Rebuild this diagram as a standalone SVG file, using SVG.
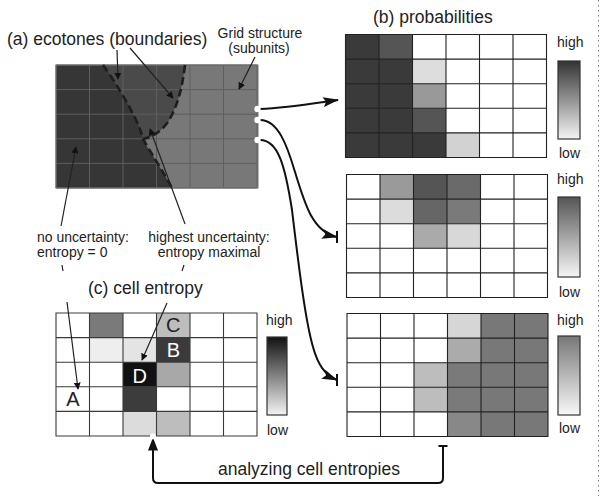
<svg xmlns="http://www.w3.org/2000/svg" xmlns:xlink="http://www.w3.org/1999/xlink" width="600" height="496" viewBox="0 0 600 496">
<style>
text{font-family:"Liberation Sans",Arial,sans-serif;fill:#222}
.t17{font-size:17.5px}
.t14{font-size:14px}
.let{font-size:20px;text-anchor:middle}
.gl{fill:none;stroke:#222;stroke-width:1.1}
.ann{fill:none;stroke:#222;stroke-width:1.2}
.con{fill:none;stroke:#111;stroke-width:2}
.dash{fill:none;stroke:#1e1e1e;stroke-width:2.6;stroke-dasharray:8,4}
.bar{stroke:#333;stroke-width:1.2}
</style>
<defs>
<path id="grid" d="M33.5,0V123M67,0V123M100.5,0V123M134,0V123M167.5,0V123M0,24.6H201M0,49.2H201M0,73.8H201M0,98.4H201M0,0H201V123H0Z"/>
<marker id="sm" viewBox="0 0 10 10" refX="9" refY="5" markerWidth="7" markerHeight="7" markerUnits="userSpaceOnUse" orient="auto">
<path d="M0,0L10,5L0,10z" fill="#111"/>
</marker>
<marker id="big" viewBox="0 0 16 10" refX="15" refY="5" markerWidth="16" markerHeight="10" markerUnits="userSpaceOnUse" orient="auto">
<path d="M0,0L16,5L0,10L3,5z" fill="#111"/>
</marker>
<marker id="up" viewBox="0 0 10 13" refX="5" refY="0.5" markerWidth="10" markerHeight="13" markerUnits="userSpaceOnUse" orient="0">
<path d="M5,0L10,13L0,13z" fill="#111"/>
</marker>
<linearGradient id="g1" x1="0" y1="0" x2="0" y2="1"><stop offset="0" stop-color="#333"/><stop offset="1" stop-color="#f4f4f4"/></linearGradient>
<linearGradient id="g2" x1="0" y1="0" x2="0" y2="1"><stop offset="0" stop-color="#555"/><stop offset="1" stop-color="#f6f6f6"/></linearGradient>
<linearGradient id="g3" x1="0" y1="0" x2="0" y2="1"><stop offset="0" stop-color="#777"/><stop offset="1" stop-color="#f8f8f8"/></linearGradient>
<linearGradient id="g4" x1="0" y1="0" x2="0" y2="1"><stop offset="0" stop-color="#111"/><stop offset="1" stop-color="#f4f4f4"/></linearGradient>
</defs>
<rect width="600" height="496" fill="#fff"/>
<line x1="598.5" y1="0" x2="598.5" y2="496" stroke="#777" stroke-width="1" stroke-dasharray="1.5,3.5"/>

<!-- (a) ecotones map -->
<g id="map-a" transform="translate(56,65)">
<rect x="0" y="0" width="202" height="123" fill="#363636"/>
<path d="M47,0C58,15 72,38 80,55C84,63 86,70 87,74C95,72 104,68 112,57C121,42 126,25 129,0Z" fill="#4a4a4a"/>
<path d="M129,0H202V123H116C108,108 95,88 87,75C95,72 104,68 112,57C121,42 126,25 129,0Z" fill="#787878"/>
<use xlink:href="#grid" href="#grid" fill="none" stroke="#5e5e5e" stroke-width="1"/>
<rect x="0" y="0" width="202" height="123" fill="none" stroke="#707070" stroke-width="1"/>
<path class="dash" d="M47,0C58,15 72,38 80,55C84,63 86,70 87,74C95,88 108,108 116,123"/>
<path class="dash" d="M129,0C126,25 121,42 112,57C104,68 95,72 87,74"/>
</g>
<g id="title-a"><text class="t17" x="7" y="45">(a) ecotones (boundaries)</text></g>
<g id="label-grid"><text class="t14" x="260" y="38" text-anchor="middle">Grid structure</text><text class="t14" x="259" y="53" text-anchor="middle">(subunits)</text></g>
<g id="label-nounc"><text class="t14" x="37" y="242">no uncertainty:</text><text class="t14" x="37" y="257">entropy = 0</text></g>
<g id="label-highunc"><text class="t14" x="209" y="242" text-anchor="middle">highest uncertainty:</text><text class="t14" x="209" y="257" text-anchor="middle">entropy maximal</text></g>

<!-- (b) probabilities -->
<g id="title-b"><text class="t17" x="373" y="23">(b) probabilities</text></g>
<g id="prob-1" transform="translate(345.5,34.5)">
<rect width="201" height="123" fill="#fff"/>
<rect x="0" y="0" width="33.5" height="123" fill="#3a3a3a"/>
<rect x="33.5" y="0" width="33.5" height="24.6" fill="#555"/>
<rect x="33.5" y="24.6" width="33.5" height="98.4" fill="#3a3a3a"/>
<rect x="67" y="24.6" width="33.5" height="24.6" fill="#ddd"/>
<rect x="67" y="49.2" width="33.5" height="24.6" fill="#999"/>
<rect x="67" y="73.8" width="33.5" height="24.6" fill="#555"/>
<rect x="67" y="98.4" width="33.5" height="24.6" fill="#3a3a3a"/>
<rect x="100.5" y="98.4" width="33.5" height="24.6" fill="#d2d2d2"/>
<use xlink:href="#grid" href="#grid" class="gl"/>
</g>
<g id="bar-1"><rect x="558" y="61" width="22" height="78" fill="url(#g1)" class="bar"/><text class="t14" x="557" y="47">high</text><text class="t14" x="559" y="158">low</text></g>

<g id="prob-2" transform="translate(346.5,174.5)">
<rect width="201" height="123" fill="#fff"/>
<rect x="33.5" y="0" width="33.5" height="24.6" fill="#9a9a9a"/>
<rect x="67" y="0" width="33.5" height="24.6" fill="#555"/>
<rect x="100.5" y="0" width="33.5" height="24.6" fill="#6a6a6a"/>
<rect x="33.5" y="24.6" width="33.5" height="24.6" fill="#dcdcdc"/>
<rect x="67" y="24.6" width="33.5" height="24.6" fill="#666"/>
<rect x="100.5" y="24.6" width="33.5" height="24.6" fill="#7a7a7a"/>
<rect x="67" y="49.2" width="33.5" height="24.6" fill="#aaa"/>
<rect x="100.5" y="49.2" width="33.5" height="24.6" fill="#d8d8d8"/>
<use xlink:href="#grid" href="#grid" class="gl"/>
</g>
<g id="bar-2"><rect x="558" y="197" width="22" height="80" fill="url(#g2)" class="bar"/><text class="t14" x="557" y="184">high</text><text class="t14" x="559" y="297">low</text></g>

<g id="prob-3" transform="translate(347,313.5)">
<rect width="201" height="123" fill="#fff"/>
<rect x="134" y="0" width="67" height="123" fill="#787878"/>
<rect x="100.5" y="0" width="33.5" height="24.6" fill="#d6d6d6"/>
<rect x="100.5" y="24.6" width="33.5" height="24.6" fill="#ababab"/>
<rect x="100.5" y="49.2" width="33.5" height="49.2" fill="#7a7a7a"/>
<rect x="100.5" y="98.4" width="33.5" height="24.6" fill="#888"/>
<rect x="67" y="49.2" width="33.5" height="49.2" fill="#bdbdbd"/>
<use xlink:href="#grid" href="#grid" class="gl"/>
</g>
<g id="bar-3"><rect x="558" y="336" width="22" height="79" fill="url(#g3)" class="bar"/><text class="t14" x="557" y="325">high</text><text class="t14" x="559" y="433">low</text></g>

<!-- (c) cell entropy -->
<g id="title-c"><text class="t17" x="88" y="294">(c) cell entropy</text></g>
<g id="entropy" transform="translate(56,313)">
<rect width="201" height="123" fill="#fff"/>
<rect x="33.5" y="0" width="33.5" height="24.6" fill="#7a7a7a"/>
<rect x="100.5" y="0" width="33.5" height="24.6" fill="#bdbdbd"/>
<rect x="33.5" y="24.6" width="33.5" height="24.6" fill="#eee"/>
<rect x="67" y="24.6" width="33.5" height="24.6" fill="#e4e4e4"/>
<rect x="100.5" y="24.6" width="33.5" height="24.6" fill="#3a3a3a"/>
<rect x="67" y="49.2" width="33.5" height="24.6" fill="#111"/>
<rect x="100.5" y="49.2" width="33.5" height="24.6" fill="#a8a8a8"/>
<rect x="67" y="73.8" width="33.5" height="24.6" fill="#3c3c3c"/>
<rect x="67" y="98.4" width="33.5" height="24.6" fill="#dcdcdc"/>
<rect x="100.5" y="98.4" width="33.5" height="24.6" fill="#bdbdbd"/>
<use xlink:href="#grid" href="#grid" class="gl" style="stroke:#3a3a3a"/>
<text class="let" x="117.3" y="19">C</text>
<text class="let" x="117.3" y="44" style="fill:#fff">B</text>
<text class="let" x="83.8" y="70" style="fill:#fff">D</text>
<text class="let" x="16.8" y="93">A</text>
</g>
<g id="bar-c"><rect x="267" y="337" width="20" height="78" fill="url(#g4)" class="bar"/><text class="t14" x="266" y="325">high</text><text class="t14" x="267" y="435">low</text></g>
<g id="label-analyze"><text class="t17" x="218" y="475">analyzing cell entropies</text></g>

<!-- connectors -->
<g id="connectors">
<path class="ann" d="M117,50L118,79" marker-end="url(#sm)"/>
<path class="ann" d="M130,48L173,98" marker-end="url(#sm)"/>
<path class="ann" d="M255,57L239,89" marker-end="url(#sm)"/>
<path class="ann" d="M61,226L76,147" marker-end="url(#sm)"/>
<path class="ann" d="M185,224L150,129" marker-end="url(#sm)"/>
<path class="ann" d="M62,265L63,271M67,302L78,389" marker-end="url(#sm)"/>
<path class="ann" d="M184,265L182,271M167,303L142,360" marker-end="url(#sm)"/>
<path class="con" d="M260,109C285,108 310,104 338,100" marker-end="url(#big)"/>
<path class="con" d="M260,120C278,120 287,145 295,172C305,205 313,232 337,237" marker-end="url(#big)"/>
<path class="con" d="M337,231V243"/>
<path class="con" d="M260,140C278,140 285,165 292,210C298,260 305,320 313,347C318,365 325,375 337,380" marker-end="url(#big)"/>
<path class="con" d="M337,374V386"/>
<circle cx="257.5" cy="109" r="3.2" fill="#fff"/>
<circle cx="257.5" cy="120" r="3.2" fill="#fff"/>
<circle cx="257.5" cy="140" r="3.2" fill="#fff"/>
<path class="con" d="M438.5,446H447.5M443,446V478Q443,483 438,483H158Q153,483 153,478V438" marker-end="url(#up)"/>
<circle cx="153" cy="436.5" r="3" fill="#fff"/>
</g>
</svg>
